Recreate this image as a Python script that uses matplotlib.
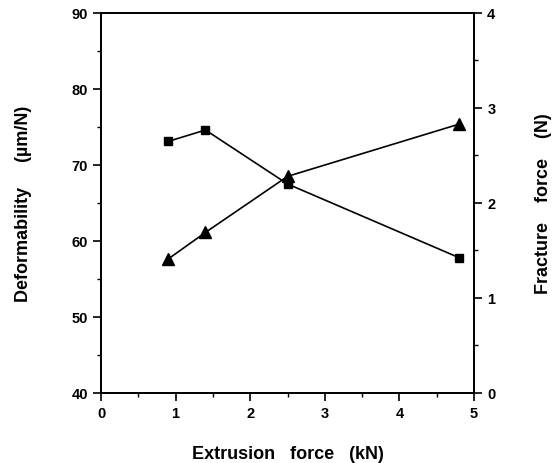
import matplotlib.pyplot as plt
from matplotlib.ticker import MultipleLocator

plt.rcParams['font.family'] = ['Liberation Sans', 'DejaVu Sans']
plt.rcParams['font.weight'] = 'bold'

# extrusion force (kN)
extrusion = [0.9, 1.4, 2.5, 4.8]
# deformability (um/N), squares
deformability = [73.1, 74.6, 67.5, 57.8]
# fracture force (N), triangles
fracture = [1.41, 1.69, 2.28, 2.83]

fig = plt.figure(figsize=(5.59, 4.64), dpi=100)
ax = fig.add_axes([0.1807, 0.1509, 0.6673, 0.819])
ax2 = ax.twinx()

ax.plot(extrusion, deformability, 'k-', marker='s', markersize=6, linewidth=1.2)
ax2.plot(extrusion, fracture, 'k-', marker='^', markersize=8, linewidth=1.2)

ax.set_xlim(0, 5)
ax.set_ylim(40, 90)
ax2.set_ylim(0, 4)

ax.xaxis.set_major_locator(MultipleLocator(1))
ax.xaxis.set_minor_locator(MultipleLocator(0.5))
ax.yaxis.set_major_locator(MultipleLocator(10))
ax.yaxis.set_minor_locator(MultipleLocator(5))
ax2.yaxis.set_major_locator(MultipleLocator(1))
ax2.yaxis.set_minor_locator(MultipleLocator(0.5))

for a in (ax, ax2):
    for s in a.spines.values():
        s.set_linewidth(1.3)
    a.tick_params(which='major', direction='out', length=6, width=1.2, labelsize=10.5)
    a.tick_params(which='minor', direction='out', length=3, width=1.0)

ax.set_xlabel('Extrusion   force   (kN)', fontsize=13, fontweight='bold')
ax.set_ylabel('Deformability     (\u00b5m/N)', fontsize=13, fontweight='bold')
ax2.set_ylabel('Fracture    force    (N)', fontsize=13, fontweight='bold')
ax.xaxis.set_label_coords(0.5, -0.137)
ax.yaxis.set_label_coords(-0.185, 0.5)
ax2.yaxis.set_label_coords(1.1635, 0.5)

fig.savefig('out.png', dpi=100)
